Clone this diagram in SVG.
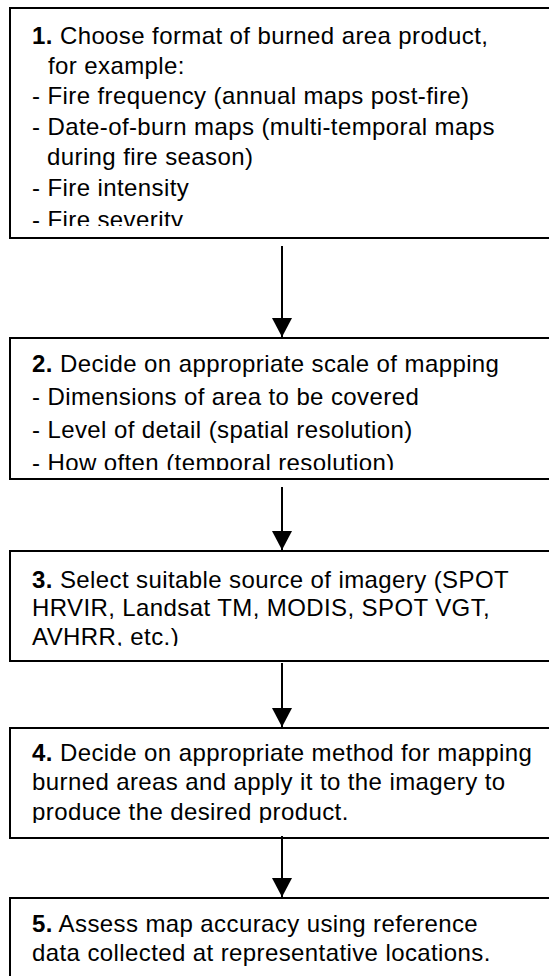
<svg xmlns="http://www.w3.org/2000/svg" width="549" height="976" viewBox="0 0 549 976">
<defs>
<style>
.box{fill:#fff;stroke:#000;stroke-width:2}
.t{font-family:"Liberation Sans",Arial,sans-serif;font-size:24px;letter-spacing:0.4px;fill:#000}
.b{font-weight:bold}
.c{stroke:#000;stroke-width:2;fill:none}
</style>
<marker id="ah" viewBox="0 0 19 20" refX="19" refY="10" markerWidth="19" markerHeight="20" markerUnits="userSpaceOnUse" orient="auto">
<path d="M0,0 L19,10 L0,20 Z" fill="#000"/>
</marker>
<clipPath id="c1"><rect x="10" y="8" width="560" height="218"/></clipPath>
<clipPath id="c2"><rect x="10" y="338" width="560" height="132"/></clipPath>
<clipPath id="c3"><rect x="10" y="551" width="560" height="95"/></clipPath>
<clipPath id="c4"><rect x="10" y="728" width="560" height="95"/></clipPath>
</defs>
<rect width="549" height="976" fill="#fff"/>
<g id="node1">
<rect class="box" x="10" y="8" width="560" height="230"/>
<g clip-path="url(#c1)">
<text class="t" x="32" y="44"><tspan class="b">1.</tspan> Choose format of burned area product,</text>
<text class="t" x="48" y="74">for example:</text>
<text class="t" x="32" y="104">- Fire frequency (annual maps post-fire)</text>
<text class="t" x="32" y="135">- Date-of-burn maps (multi-temporal maps</text>
<text class="t" x="47" y="165">during fire season)</text>
<text class="t" x="32" y="196">- Fire intensity</text>
<text class="t" x="32" y="228">- Fire severity</text>
</g>
</g>
<g id="node2">
<rect class="box" x="10" y="338" width="560" height="141"/>
<g clip-path="url(#c2)">
<text class="t" x="32" y="372"><tspan class="b">2.</tspan> Decide on appropriate scale of mapping</text>
<text class="t" x="32" y="405">- Dimensions of area to be covered</text>
<text class="t" x="32" y="438">- Level of detail (spatial resolution)</text>
<text class="t" x="32" y="471">- How often (temporal resolution)</text>
</g>
</g>
<g id="node3">
<rect class="box" x="10" y="551" width="560" height="110"/>
<g clip-path="url(#c3)">
<text class="t" x="32" y="588"><tspan class="b">3.</tspan> Select suitable source of imagery (SPOT</text>
<text class="t" x="32" y="616">HRVIR, Landsat TM, MODIS, SPOT VGT,</text>
<text class="t" x="32" y="645">AVHRR, etc.)</text>
</g>
</g>
<g id="node4">
<rect class="box" x="10" y="728" width="560" height="110"/>
<g clip-path="url(#c4)">
<text class="t" x="32" y="761"><tspan class="b">4.</tspan> Decide on appropriate method for mapping</text>
<text class="t" x="32" y="790">burned areas and apply it to the imagery to</text>
<text class="t" x="32" y="820">produce the desired product.</text>
</g>
</g>
<g id="node5">
<rect class="box" x="10" y="898" width="560" height="100"/>
<text class="t" x="32" y="932"><tspan class="b">5.</tspan> Assess map accuracy using reference</text>
<text class="t" x="32" y="961">data collected at representative locations.</text>
</g>
<g id="connectors">
<line class="c" x1="282" y1="246" x2="282" y2="337" marker-end="url(#ah)"/>
<line class="c" x1="282" y1="487" x2="282" y2="550" marker-end="url(#ah)"/>
<line class="c" x1="282" y1="663" x2="282" y2="727" marker-end="url(#ah)"/>
<line class="c" x1="282" y1="836" x2="282" y2="897" marker-end="url(#ah)"/>
</g>
</svg>
